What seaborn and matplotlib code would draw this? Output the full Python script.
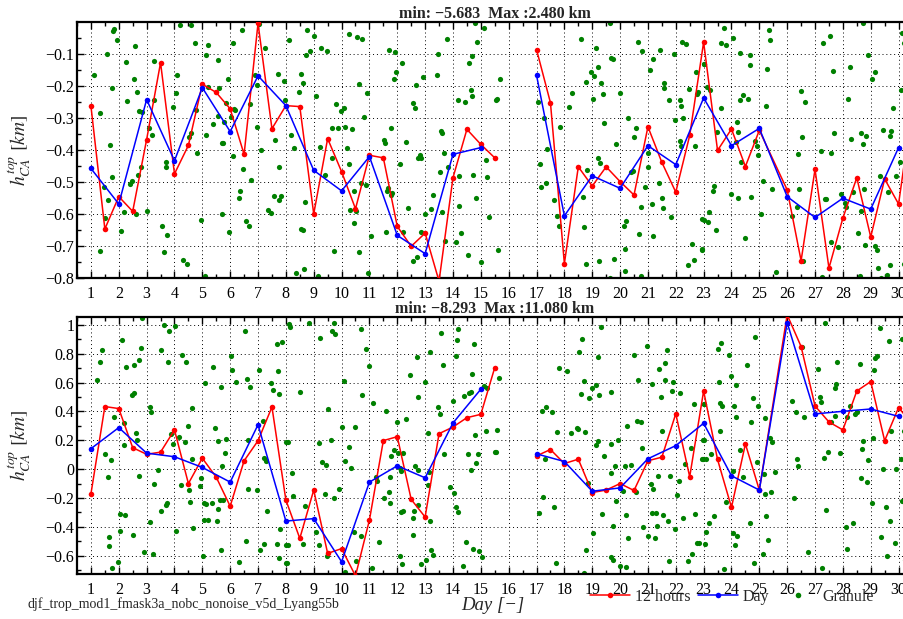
import numpy as np
import pandas as pd
import matplotlib
matplotlib.use("Agg")
import matplotlib.pyplot as plt
from matplotlib.ticker import MultipleLocator, FuncFormatter
from matplotlib.lines import Line2D
import seaborn as sns

# ---------------- data ----------------
half_days_a = [1 + 0.5 * i for i in range(30)]            # 1 .. 15.5
half_days_b = [17, 17.5, 18, 18.5, 19, 19.5, 20, 20.5, 21, 21.5, 22, 22.5,
               23, 23.5, 24, 24.5, 25, 26, 26.5, 27, 27.5, 28, 28.5, 29,
               29.5, 30, 30.5]
days_a = list(range(1, 16))
days_b = list(range(17, 31))

red_top_a = [-0.263, -0.647, -0.546, -0.592, -0.368, -0.128, -0.475, -0.386,
             -0.195, -0.221, -0.272, -0.414, -0.005, -0.334, -0.262, -0.265,
             -0.600, -0.365, -0.468, -0.584, -0.417, -0.425, -0.639, -0.701,
             -0.660, -0.810, -0.487, -0.336, -0.383, -0.425]
red_top_b = [-0.087, -0.253, -0.755, -0.453, -0.513, -0.453, -0.499, -0.541,
             -0.328, -0.439, -0.532, -0.355, -0.064, -0.402, -0.335, -0.452,
             -0.339, -0.525, -0.746, -0.461, -0.769, -0.613, -0.487, -0.672,
             -0.491, -0.569, -0.26]
blue_top_a = [-0.458, -0.569, -0.243, -0.434, -0.206, -0.343, -0.169, -0.262,
              -0.464, -0.528, -0.421, -0.667, -0.724, -0.414, -0.393]
blue_top_b = [-0.167, -0.606, -0.481, -0.520, -0.387, -0.446, -0.238, -0.387,
              -0.333, -0.546, -0.611, -0.551, -0.585, -0.393]

red_bot_a = [-0.172, 0.434, 0.420, 0.149, 0.103, 0.118, 0.272, -0.100, 0.076,
             -0.056, -0.257, 0.058, 0.197, 0.431, -0.214, -0.480, -0.145,
             -0.584, -0.551, -0.740, -0.353, 0.198, 0.225, -0.210, -0.332,
             0.246, 0.292, 0.357, 0.380, 0.704]
red_bot_b = [0.092, 0.136, 0.039, 0.069, -0.162, -0.145, -0.100, -0.148, 0.058,
             0.083, 0.384, -0.053, 0.542, 0.067, -0.265, 0.175, -0.145, 1.07,
             0.850, 0.438, 0.327, 0.272, 0.542, 0.607, 0.197, 0.427, 0.31]
blue_bot_a = [0.142, 0.288, 0.111, 0.086, 0.012, -0.090, 0.308, -0.360, -0.343,
              -0.642, -0.090, 0.023, -0.060, 0.320, 0.554]
blue_bot_b = [0.106, 0.053, -0.153, -0.130, 0.072, 0.163, 0.318, -0.046,
              -0.145, 1.016, 0.383, 0.401, 0.417, 0.366]

# granule points (day, value)
gran_top_1 = [(1.82,-0.022),(1.78,-0.030),(1.95,-0.058),(1.56,-0.100),(1.10,-0.167),(1.75,-0.206),
    (2.25,-0.126),(2.60,-0.076),(2.55,-0.180),(2.66,-0.221),(2.30,-0.248),(1.34,-0.286),(2.73,-0.280),
    (2.84,-0.281),(3.26,-0.123),(3.26,-0.245),(3.09,-0.333),(3.20,-0.354),(1.69,-0.386),(1.75,-0.484),
    (1.46,-0.517),(1.60,-0.556),(1.51,-0.613),(2.20,-0.594),(2.09,-0.652),(1.32,-0.717),(2.47,-0.496),
    (2.39,-0.506),(2.61,-0.600),(2.69,-0.479),(2.80,-0.454),(3.01,-0.590),(3.56,-0.637),(3.74,-0.665),
    (3.61,-0.718),(3.68,-0.454),(3.70,-0.439),(3.94,-0.266),(4.05,-0.224),(4.10,-0.167),(4.19,-0.011),
    (4.60,-0.011),(4.74,-0.068),(5.14,-0.105),(5.21,-0.074),(5.55,-0.121),(5.12,-0.354),(4.80,-0.410),
    (4.79,-0.277),(4.53,-0.359),(4.58,-0.349),(5.22,-0.204),(5.61,-0.206),(5.56,-0.294),(5.40,-0.318),
    (5.79,-0.314),(5.75,-0.380),(5.70,-0.380),(5.86,-0.253),(5.91,-0.180),(6.02,-0.297),(6.10,-0.066),
    (6.41,-0.027),(6.12,-0.271),(6.18,-0.276),(6.09,-0.419),(6.47,-0.461),(6.75,-0.493),(6.30,-0.551),
    (6.35,-0.530),(6.71,-0.257),(6.89,-0.165),(6.97,-0.198),(6.97,-0.329),(7.11,-0.399),(7.05,-0.006),
    (7.26,-0.083),(7.72,-0.163),(7.92,-0.185),(7.97,-0.245),(7.61,-0.369),(7.75,-0.452),(7.56,-0.544),
    (7.83,-0.544),(7.77,-0.556),(7.36,-0.587),(7.47,-0.598),(5.72,-0.600),(5.97,-0.657),(6.57,-0.621),
    (6.66,-0.638),(4.96,-0.620),(4.30,-0.743),(4.46,-0.755),(5.08,-0.793)]
gran_top_2 = [(8.77,-0.025),(9.01,-0.046),(8.10,-0.057),(8.86,-0.092),(8.71,-0.103),(9.26,-0.082),
    (9.48,-0.091),(10.26,-0.040),(10.56,-0.049),(10.73,-0.055),(8.56,-0.164),(8.60,-0.190),(8.46,-0.221),
    (9.07,-0.232),(9.81,-0.258),(10.08,-0.269),(9.99,-0.279),(9.66,-0.331),(9.86,-0.331),(10.13,-0.328),
    (10.37,-0.334),(10.82,-0.298),(10.62,-0.196),(10.91,-0.223),(8.20,-0.355),(8.30,-0.393),(9.23,-0.390),
    (9.66,-0.424),(10.21,-0.395),(10.27,-0.445),(9.42,-0.477),(10.43,-0.530),(10.68,-0.505),(10.86,-0.509),
    (8.68,-0.564),(10.32,-0.588),(10.52,-0.590),(10.46,-0.628),(8.56,-0.647),(8.60,-0.650),(9.72,-0.717),
    (10.61,-0.719),(11.06,-0.669),(8.38,-0.784),(8.66,-0.773),(9.15,-0.795),(10.95,-0.784),(11.71,-0.087),
    (11.92,-0.094),(12.16,-0.128),(11.97,-0.157),(11.88,-0.179),(12.67,-0.197),(12.91,-0.173),(13.46,-0.102),
    (13.42,-0.165),(13.78,-0.055),(14.18,-0.246),(14.42,-0.250),(14.66,-0.214),(14.67,-0.232),(14.87,-0.063),
    (14.67,-0.108),(14.57,-0.129),(14.78,-0.005),(15.13,-0.020),(11.77,-0.331),(11.51,-0.368),(11.57,-0.380),
    (12.32,-0.374),(12.08,-0.443),(12.56,-0.253),(12.62,-0.269),(12.81,-0.416),(12.76,-0.424),(12.86,-0.424),
    (11.66,-0.520),(11.63,-0.528),(11.77,-0.540),(11.82,-0.536),(12.37,-0.580),(12.22,-0.655),(11.61,-0.656),
    (12.84,-0.657),(12.99,-0.599),(13.22,-0.584),(13.30,-0.540),(13.62,-0.593),(13.53,-0.469),(13.57,-0.340),
    (13.62,-0.349),(13.68,-0.410),(13.83,-0.454),(14.21,-0.483),(14.21,-0.575),(14.11,-0.687),(14.29,-0.658),
    (13.71,-0.686),(14.53,-0.727),(14.84,-0.550),(14.72,-0.478),(15.17,-0.433),(15.22,-0.484),(15.28,-0.610),
    (15.02,-0.749),(12.57,-0.748),(12.72,-0.734),(15.53,-0.243)]
gran_top_3 = [(15.68,-0.178),(15.58,-0.242),(15.62,-0.712),(19.63,-0.003),(18.58,-0.053),(19.14,-0.081),
    (19.68,-0.113),(19.73,-0.115),(18.97,-0.157),(19.08,-0.169),(19.19,-0.141),(18.78,-0.189),(19.33,-0.191),
    (19.03,-0.240),(19.38,-0.226),(18.28,-0.224),(18.18,-0.266),(17.07,-0.251),(17.27,-0.300),(17.83,-0.328),
    (17.38,-0.398),(17.13,-0.443),(17.33,-0.503),(17.17,-0.515),(17.63,-0.558),(17.74,-0.605),(17.79,-0.639),
    (18.67,-0.547),(18.69,-0.642),(18.83,-0.463),(19.19,-0.424),(19.28,-0.440),(19.44,-0.315),(19.98,-0.222),
    (20.28,-0.300),(19.84,-0.381),(20.41,-0.469),(20.46,-0.466),(20.58,-0.332),(20.50,-0.361),(20.88,-0.515),
    (20.74,-0.578),(20.69,-0.664),(21.19,-0.669),(21.14,-0.570),(21.38,-0.505),(21.50,-0.551),(21.55,-0.581),
    (21.84,-0.611),(21.00,-0.409),(20.99,-0.455),(20.64,-0.063),(20.78,-0.091),(21.17,-0.115),(21.43,-0.088),
    (21.08,-0.152),(21.58,-0.190),(21.59,-0.207),(21.74,-0.245),(21.93,-0.101),(21.99,-0.308),(22.14,-0.245),
    (22.19,-0.263),(22.25,-0.300),(22.14,-0.373),(22.20,-0.387),(22.70,-0.389),(22.23,-0.063),(22.38,-0.071),
    (22.74,-0.158),(22.76,-0.227),(22.81,-0.221),(22.49,-0.211),(22.95,-0.617),(23.00,-0.131),(22.59,-0.693),
    (22.64,-0.744),(22.44,-0.759),(22.94,-0.710),(20.75,-0.793),(20.18,-0.779),(20.18,-0.709),(20.14,-0.637),
    (20.23,-0.623),(19.78,-0.742),(19.24,-0.747),(18.78,-0.757),(19.64,-0.799)]
gran_top_4 = [(23.74,-0.021),(24.07,-0.051),(23.64,-0.068),(23.79,-0.073),(24.29,-0.098),(24.65,-0.103),
    (24.65,-0.134),(25.28,-0.148),(25.34,-0.027),(25.39,-0.057),(23.02,-0.131),(23.12,-0.203),(23.24,-0.214),
    (24.29,-0.246),(24.43,-0.229),(24.60,-0.242),(23.64,-0.268),(25.24,-0.263),(24.19,-0.313),(24.24,-0.344),
    (23.47,-0.343),(24.84,-0.372),(24.90,-0.389),(24.94,-0.417),(24.34,-0.439),(24.15,-0.377),(25.14,-0.496),
    (25.44,-0.522),(23.99,-0.537),(24.24,-0.551),(24.70,-0.547),(23.33,-0.528),(23.39,-0.512),(25.06,-0.600),
    (23.18,-0.593),(23.00,-0.618),(23.14,-0.626),(23.43,-0.651),(24.48,-0.676),(22.94,-0.712),(25.59,-0.781),
    (26.49,-0.216),(26.65,-0.250),(26.54,-0.359),(26.38,-0.414),(26.44,-0.523),(26.35,-0.578),(26.19,-0.605),
    (26.56,-0.747),(27.30,-0.065),(27.53,-0.046),(27.64,-0.154),(28.24,-0.143),(28.19,-0.241),(27.69,-0.346),
    (28.29,-0.367),(27.21,-0.404),(27.59,-0.410),(27.35,-0.553),(27.39,-0.554),(27.94,-0.537),(28.07,-0.567),
    (28.13,-0.578),(28.38,-0.531),(28.54,-0.661),(28.65,-0.590),(28.77,-0.522),(28.64,-0.346),(28.84,-0.357),
    (28.74,-0.381),(27.59,-0.687),(27.83,-0.702),(28.79,-0.696),(29.15,-0.700),(29.21,-0.714),(29.25,-0.769),
    (29.69,-0.760),(29.57,-0.790),(29.38,-0.800),(28.90,-0.103),(29.06,-0.178),(29.14,-0.157),(28.74,-0.003),
    (29.44,-0.339),(29.74,-0.340),(29.69,-0.357),(29.80,-0.270),(30.09,-0.214),(30.23,-0.299),(30.18,-0.068),
    (30.12,-0.035),(29.89,-0.481),(30.05,-0.438),(29.62,-0.532),(29.34,-0.481),(30.21,-0.755),(27.25,-0.796),
    (28.62,-0.795)]

gran_bot_1 = [(2.85,1.046),(3.62,1.000),(4.01,0.990),(3.82,0.956),(2.12,0.894),(1.40,0.829),(1.32,0.746),
    (2.81,0.843),(2.71,0.757),(2.56,0.725),(2.25,0.706),(3.51,0.829),(3.76,0.741),(4.28,0.794),(4.42,0.741),
    (1.21,0.618),(2.49,0.517),(2.56,0.528),(1.82,0.364),(2.18,0.318),(2.17,0.168),(2.61,0.249),(2.67,0.205),
    (1.52,0.108),(1.71,0.064),(1.62,-0.052),(2.72,-0.047),(3.13,0.434),(3.16,0.397),(3.41,-0.006),(3.26,-0.101),
    (3.88,0.246),(3.93,0.175),(4.17,0.225),(4.36,0.191),(4.47,0.302),(4.62,0.427),(4.64,0.071),(4.52,-0.142),
    (4.56,-0.225),(4.22,-0.110),(3.68,-0.249),(3.73,-0.232),(3.51,-0.292),(2.05,-0.311),(2.21,-0.320),
    (3.11,-0.366),(2.06,-0.429),(2.51,-0.457),(1.66,-0.473),(1.66,-0.531),(2.91,-0.577),(3.22,-0.586),
    (1.96,-0.642),(1.77,-0.685),(4.06,-0.429),(4.66,-0.410),(4.97,-0.064),(4.92,-0.119),(5.06,-0.237),
    (5.12,-0.239),(5.36,-0.235),(5.06,-0.350),(5.21,-0.350),(5.52,-0.360),(5.57,-0.276),(5.62,-0.214),
    (5.76,-0.214),(5.70,0.024),(5.82,0.112),(5.86,0.209),(5.55,0.193),(5.45,0.283),(5.10,0.600),(5.39,0.711),
    (5.67,0.572),(6.03,0.783),(6.06,0.690),(6.21,0.602),(6.62,0.625),(6.71,0.572),(6.52,0.956),(7.02,0.690),
    (7.45,0.595),(7.53,0.551),(7.75,0.521),(7.67,0.868),(7.87,0.884),(7.72,0.681),(7.18,0.334),(7.23,0.075),
    (7.29,0.057),(7.32,-0.288),(6.97,-0.144),(6.65,-0.140),(6.63,0.200),(6.57,-0.496),(6.33,-0.644),
    (5.67,-0.561),(5.02,-0.600),(7.06,-0.563),(7.23,-0.517),(7.67,-0.520),(7.74,-0.616),(8.01,-0.651),
    (7.80,-0.415),(8.01,0.191),(8.01,-0.526)]
gran_bot_2 = [(8.11,1.007),(8.16,0.988),(8.83,1.012),(9.23,0.910),(9.67,0.958),(9.74,1.012),(9.78,0.935),
    (10.69,0.974),(10.88,0.831),(10.99,0.718),(10.08,0.614),(8.52,0.538),(9.53,0.417),(10.74,0.514),
    (11.13,0.459),(11.58,0.403),(8.09,0.191),(8.23,-0.029),(8.27,-0.185),(8.68,-0.257),(8.63,-0.516),
    (8.08,-0.526),(8.03,-0.650),(9.18,0.181),(9.29,0.047),(9.43,0.029),(9.62,0.202),(9.39,-0.170),
    (9.73,-0.198),(9.92,-0.140),(10.03,0.292),(10.49,0.290),(10.28,0.154),(10.13,0.054),(10.33,0.010),
    (10.43,-0.438),(10.68,-0.466),(10.53,-0.635),(11.09,-0.688),(10.14,-0.713),(9.49,-0.605),(9.18,-0.524),
    (9.08,-0.438),(11.35,-0.503),(11.22,-0.057),(11.28,-0.082),(11.53,-0.198),(11.69,-0.161),(11.73,-0.237),
    (11.74,-0.054),(11.79,0.091),(11.88,0.135),(11.98,0.325),(12.30,0.346),(12.03,0.114),(12.10,0.008),
    (12.22,0.110),(12.12,-0.013),(12.44,0.653),(12.70,0.776),(12.98,0.607),(12.73,0.503),(13.18,0.810),
    (13.64,0.725),(13.57,0.944),(14.13,0.898),(14.10,0.787),(14.19,0.975),(14.74,0.871),(14.68,0.658),
    (13.45,0.429),(13.53,0.385),(13.12,0.249),(12.63,0.020),(12.74,-0.008),(12.73,-0.249),(12.60,-0.293),
    (12.55,-0.339),(12.12,-0.299),(12.20,-0.290),(12.58,-0.459),(13.17,-0.362),(13.09,-0.112),(13.14,-0.022),
    (13.68,0.108),(13.89,-0.126),(14.01,0.471),(14.11,-0.265),(14.19,-0.295),(14.05,-0.168),(14.38,0.510),
    (14.56,0.526),(14.65,0.535),(14.78,0.239),(14.54,0.103),(14.63,-0.003),(14.84,0.043),(14.89,0.103),
    (15.17,0.262),(15.22,0.565),(15.11,0.579),(14.48,-0.508),(14.72,-0.554),(14.95,-0.568),(15.03,-0.610),
    (14.35,-0.674),(15.51,0.119),(12.85,-0.660),(13.04,-0.632),(13.22,-0.563),(13.30,-0.593),(12.09,-0.602),
    (12.18,-0.658)]
gran_bot_3 = [(15.64,0.630),(15.58,0.274),(15.54,0.119),(19.30,0.986),(18.65,0.903),(18.54,0.815),
    (19.20,0.780),(17.80,0.704),(18.10,0.679),(18.70,0.614),(18.99,0.563),(19.14,0.582),(18.60,0.521),
    (18.90,0.491),(19.25,0.517),(19.69,0.533),(17.20,0.401),(17.34,0.429),(17.55,0.394),(17.74,0.260),
    (18.24,0.249),(18.45,0.283),(18.49,0.279),(18.75,0.260),(19.19,0.198),(19.14,0.170),(19.43,0.091),
    (19.93,0.205),(19.69,0.177),(20.24,0.299),(20.60,0.336),(20.75,0.325),(20.80,0.147),(20.51,0.794),
    (20.65,0.618),(20.95,0.854),(21.14,0.591),(21.40,0.692),(21.46,0.503),(21.60,0.734),(21.70,0.829),
    (21.61,0.618),(21.90,0.605),(21.87,0.540),(22.14,0.526),(21.50,0.262),(21.78,-0.047),(22.10,-0.080),
    (22.04,-0.177),(21.35,-0.047),(21.10,-0.101),(21.20,-0.135),(21.29,-0.304),(21.14,-0.302),(21.55,-0.316),
    (21.71,-0.357),(21.99,-0.418),(22.25,-0.341),(22.70,-0.313),(22.55,0.147),(22.34,0.036),(21.00,-0.461),
    (21.34,-0.392),(21.26,-0.475),(20.83,-0.403),(20.56,-0.156),(20.41,0.027),(20.16,0.022),(19.80,0.020),
    (19.66,-0.029),(20.11,-0.154),(19.85,-0.218),(19.34,-0.313),(19.74,-0.397),(20.20,-0.320),(20.30,-0.475),
    (19.03,-0.440),(18.78,-0.563),(18.84,-0.096),(17.69,-0.651),(17.64,-0.260),(17.23,-0.191),(17.09,-0.302),
    (17.29,0.073),(19.66,-0.612),(19.74,-0.632),(19.99,-0.669),(20.20,-0.681),(18.69,-0.718),(21.74,-0.635),
    (22.45,-0.635),(22.59,-0.589),(22.76,-0.514),(22.85,-0.514),(22.97,0.205),(22.94,0.068),(23.01,0.452),
    (22.65,0.452)]
gran_bot_4 = [(23.64,0.875),(23.50,0.833),(23.91,0.790),(24.55,0.723),(24.84,0.919),(24.00,0.649),
    (24.16,0.584),(23.56,0.607),(23.00,0.452),(23.59,0.459),(23.67,0.436),(24.10,0.436),(24.16,0.360),
    (24.76,0.494),(24.96,0.438),(25.20,0.355),(24.70,0.327),(23.59,0.262),(23.00,0.205),(23.26,0.108),
    (22.96,0.068),(23.09,0.068),(24.31,0.135),(24.90,0.050),(24.42,-0.057),(24.05,-0.013),(25.15,-0.036),
    (25.56,-0.020),(25.45,0.186),(25.39,0.214),(23.80,-0.228),(23.36,-0.327),(23.20,-0.373),(23.09,-0.436),
    (23.04,-0.521),(24.04,-0.440),(24.21,-0.464),(24.11,-0.526),(24.65,-0.373),(25.25,-0.325),(25.30,-0.489),
    (25.41,-0.156),(25.20,-0.175),(25.12,-0.589),(24.80,-0.649),(23.74,-0.690),(26.16,0.475),(26.33,0.394),
    (26.61,0.364),(26.35,0.068),(26.38,0.024),(26.25,-0.200),(26.54,0.845),(27.37,1.012),(27.09,0.695),
    (27.18,0.503),(27.20,0.464),(27.80,0.741),(27.71,0.563),(27.75,0.591),(27.70,0.366),(27.59,0.325),
    (27.91,0.114),(27.45,0.121),(27.32,0.080),(28.25,0.438),(28.15,0.362),(28.42,0.380),(28.49,0.399),
    (28.61,0.732),(28.74,0.198),(28.70,0.140),(28.89,0.066),(28.66,-0.059),(28.85,-0.089),(29.04,-0.237),
    (29.13,0.690),(29.15,0.769),(29.22,0.783),(29.32,0.977),(29.65,0.887),(30.13,0.903),(29.08,0.214),
    (29.44,-0.001),(29.56,-0.262),(29.70,-0.360),(29.91,0.003),(30.09,0.071),(30.13,-0.218),(30.21,0.267),
    (29.73,0.262),(29.37,-0.471),(29.86,-0.515),(29.58,-0.605),(30.23,-0.629),(28.15,-0.556),(28.35,-0.373),
    (28.10,-0.399),(27.39,-0.283),(26.74,-0.572),(27.25,-0.686)]

titles = ["min: \u22125.683  Max :2.480 km", "min: \u22128.293  Max :11.080 km"]
ylims = [(-0.8, -0.001), (-0.727, 1.057)]
ysteps = [0.1, 0.2]
series_label = ["12 hours", "Day", "Granule"]
footnote = "djf_trop_mod1_fmask3a_nobc_nonoise_v5d_Lyang55b"

# ---------------- style ----------------
sns.set_style("ticks")
plt.rcParams['font.family'] = ['Liberation Serif', 'DejaVu Serif']
plt.rcParams['mathtext.fontset'] = 'stix'

RED, BLUE, GREEN = "#ff0000", "#0000ff", "#008000"

fig = plt.figure(figsize=(9.04, 6.19), dpi=100)
W, H = 904.0, 619.0
ax_top = fig.add_axes([77 / W, 1 - 278 / H, 835.5 / W, 256 / H])
ax_bot = fig.add_axes([77 / W, 1 - 574 / H, 835.5 / W, 257.3 / H])


def make_line_df(xa, ya, xb, yb):
    return pd.DataFrame({
        "day": list(xa) + list(xb),
        "h": list(ya) + list(yb),
        "seg": [0] * len(xa) + [1] * len(xb),
    })


def fmt(v, pos):
    s = f"{v:.10g}"
    if abs(v) < 1e-9:
        s = "0"
    return s.replace("-", "\u2212")


panels = [
    (ax_top, red_top_a, red_top_b, blue_top_a, blue_top_b,
     gran_top_1 + gran_top_2 + gran_top_3 + gran_top_4),
    (ax_bot, red_bot_a, red_bot_b, blue_bot_a, blue_bot_b,
     gran_bot_1 + gran_bot_2 + gran_bot_3 + gran_bot_4),
]

for i, (ax, ra, rb, ba, bb, gran) in enumerate(panels):
    gdf = pd.DataFrame(gran, columns=["day", "h"])
    sns.scatterplot(data=gdf, x="day", y="h", color=GREEN, s=14, linewidth=0,
                    ax=ax, zorder=2, legend=False)
    rdf = make_line_df(half_days_a, ra, half_days_b, rb)
    bdf = make_line_df(days_a, ba, days_b, bb)
    sns.lineplot(data=rdf, x="day", y="h", units="seg", estimator=None,
                 color=RED, marker="o", markersize=4, markeredgewidth=0,
                 linewidth=1.1, ax=ax, zorder=3, legend=False)
    sns.lineplot(data=bdf, x="day", y="h", units="seg", estimator=None,
                 color=BLUE, marker="o", markersize=4, markeredgewidth=0,
                 linewidth=1.1, ax=ax, zorder=4, legend=False)

    ax.set_xlim(0.5, 30.5)
    ax.set_ylim(*ylims[i])
    ax.xaxis.set_major_locator(MultipleLocator(1))
    ax.xaxis.set_minor_locator(MultipleLocator(0.5))
    ax.yaxis.set_major_locator(MultipleLocator(ysteps[i]))
    ax.yaxis.set_minor_locator(MultipleLocator(ysteps[i] / 2))
    ax.xaxis.set_major_formatter(FuncFormatter(lambda v, p: f"{int(round(v))}"))
    ax.yaxis.set_major_formatter(FuncFormatter(fmt))
    ax.tick_params(which="both", direction="in", top=True, right=True,
                   width=1.0, labelsize=11.5, colors="black")
    ax.tick_params(which="major", length=5)
    ax.tick_params(which="minor", length=3)
    ax.tick_params(axis="x", which="both", pad=6)
    ax.tick_params(axis="y", which="both", pad=2)
    ax.grid(True, which="major", color="black", linestyle=(0, (1, 3)),
            linewidth=0.7)
    for sp in ax.spines.values():
        sp.set_linewidth(1.6)
        sp.set_color("black")
    ax.set_xlabel("")
    ax.set_ylabel(r"$h^{top}_{CA}\ [km]$", fontsize=14)
    ax.yaxis.set_label_coords(-0.053, 0.5)
    ax.set_title(titles[i], fontsize=11.5, fontweight="bold", pad=2)

fig.text(493 / W, 1 - 605 / H, "Day [\u2212]", fontsize=13.5, style="italic",
         ha="center", va="center")
fig.text(28 / W, 1 - 604 / H, footnote, fontsize=10, ha="left", va="center")

handles = [
    Line2D([], [], color=RED, marker="o", markersize=4, markeredgewidth=0, linewidth=1.1),
    Line2D([], [], color=BLUE, marker="o", markersize=4, markeredgewidth=0, linewidth=1.1),
    Line2D([], [], color=GREEN, marker="o", markersize=4, markeredgewidth=0, linestyle="none"),
]
fig.legend(handles, series_label, loc="center left",
           bbox_to_anchor=(590 / W, 1 - 597 / H), ncol=3, frameon=False,
           fontsize=11.5, handlelength=2.5, handletextpad=0.3,
           columnspacing=0.5, borderpad=0, borderaxespad=0)

fig.savefig("out.png", dpi=100)
